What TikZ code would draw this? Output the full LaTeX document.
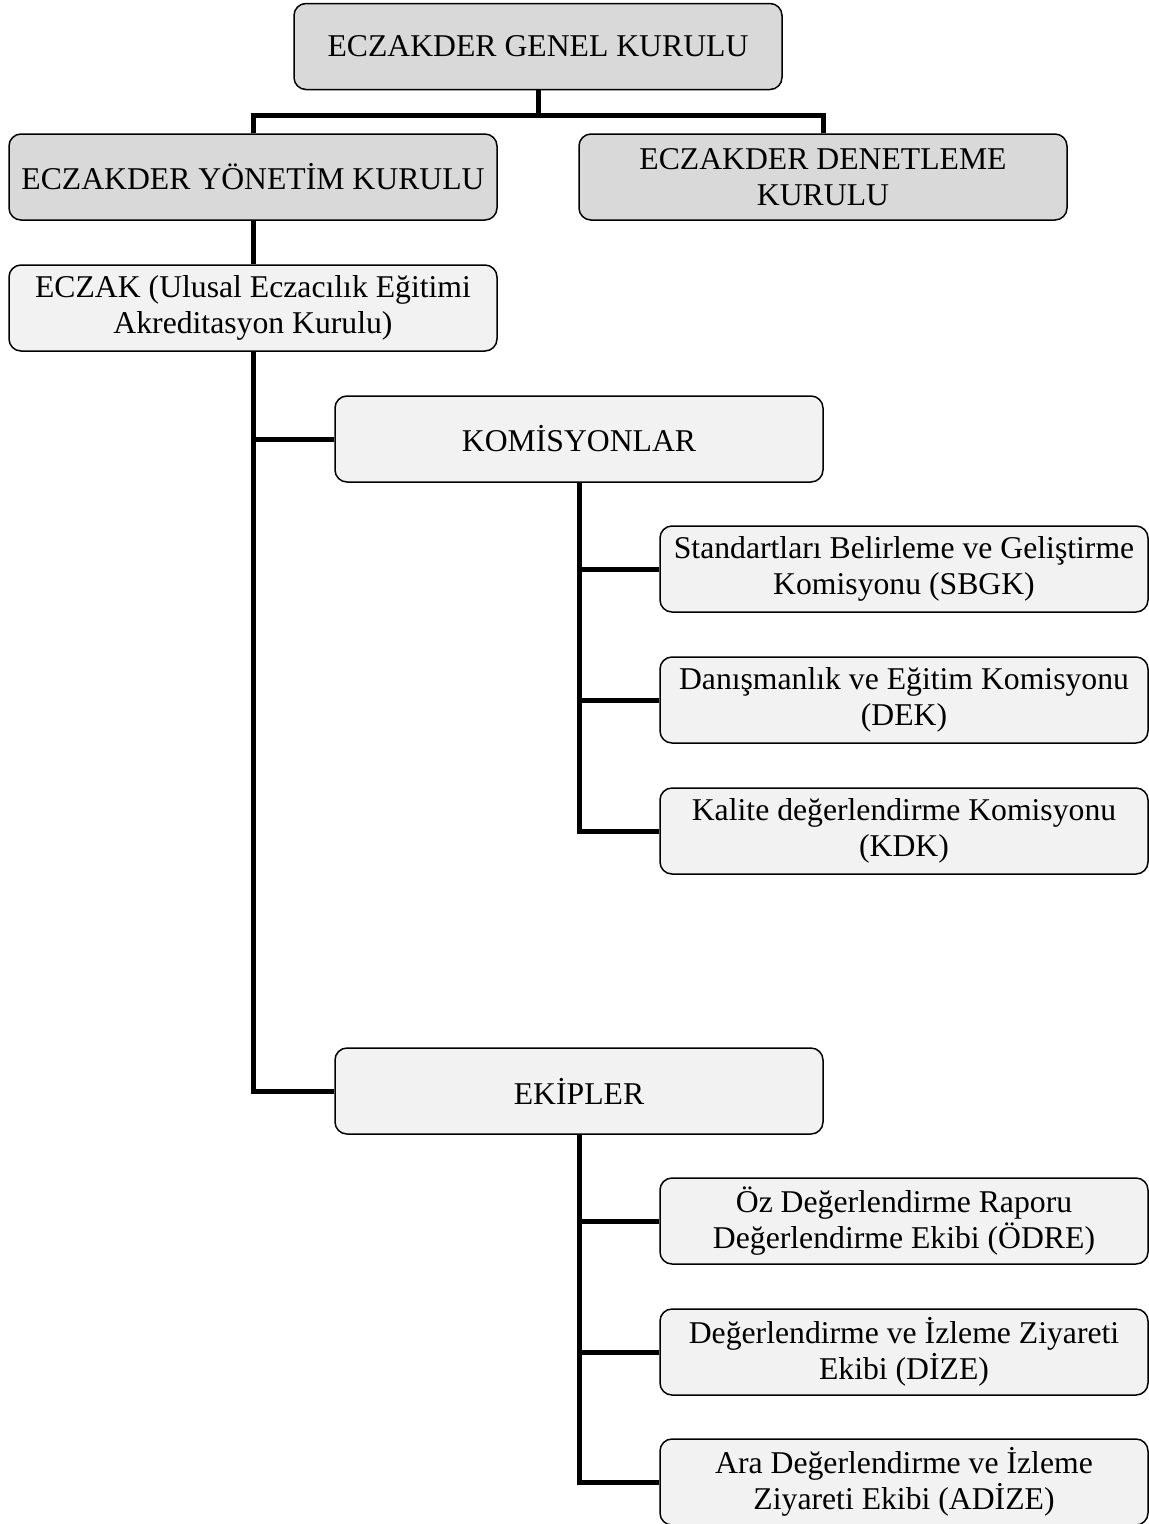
\documentclass[tikz,border=0pt]{standalone}
\usepackage{fontspec}
\setmainfont{Liberation Serif}
\definecolor{dgrey}{HTML}{D9D9D9}
\definecolor{lgrey}{HTML}{F2F2F2}
\tikzset{
  box/.style={draw=black, line width=1.5pt, rounded corners=12pt, minimum width=488pt, minimum height=86pt, inner sep=0pt, align=center, font=\fontsize{31.7}{36.5}\selectfont},
  darkbox/.style={box, fill=dgrey},
  lightbox/.style={box, fill=lgrey},
  conn/.style={line width=5pt, black}
}
\begin{document}
\begin{tikzpicture}[x=1pt,y=-1pt]
\useasboundingbox (0,0) rectangle (1149,1524);
\node[darkbox] (genel) at (538,46.5) {ECZAKDER GENEL KURULU};
\node[darkbox] (yon) at (253,177) {ECZAKDER YÖNETİM KURULU};
\node[darkbox] (den) at (823,177) {ECZAKDER DENETLEME\\KURULU};
\node[lightbox] (eczak) at (253,308) {ECZAK (Ulusal Eczacılık Eğitimi\\Akreditasyon Kurulu)};
\node[lightbox] (kom) at (579,439) {KOMİSYONLAR};
\node[lightbox] (sbgk) at (904,569) {Standartları Belirleme ve Geliştirme\\Komisyonu (SBGK)};
\node[lightbox] (dek) at (904,700) {Danışmanlık ve Eğitim Komisyonu\\(DEK)};
\node[lightbox] (kdk) at (904,831) {Kalite değerlendirme Komisyonu\\(KDK)};
\node[lightbox] (ekip) at (579,1091) {EKİPLER};
\node[lightbox] (odre) at (904,1221) {Öz Değerlendirme Raporu\\Değerlendirme Ekibi (ÖDRE)};
\node[lightbox] (dize) at (904,1352) {Değerlendirme ve İzleme Ziyareti\\Ekibi (DİZE)};
\node[lightbox] (adize) at (904,1482) {Ara Değerlendirme ve İzleme\\Ziyareti Ekibi (ADİZE)};
\coordinate (j1) at (538,115);
\begin{scope}[on background layer/.try]
\end{scope}
\draw[conn] (genel.south) -- (j1);
\draw[conn] (yon.north) -- (yon.north |- j1) -- (den.north |- j1) -- (den.north);
\draw[conn] (yon.south) -- (eczak.north);
\draw[conn] (eczak.south) |- (kom.west);
\draw[conn] (eczak.south) |- (ekip.west);
\draw[conn] (kom.south) |- (sbgk.west);
\draw[conn] (kom.south) |- (dek.west);
\draw[conn] (kom.south) |- (kdk.west);
\draw[conn] (ekip.south) |- (odre.west);
\draw[conn] (ekip.south) |- (dize.west);
\draw[conn] (ekip.south) |- (adize.west);
\end{tikzpicture}
\end{document}
